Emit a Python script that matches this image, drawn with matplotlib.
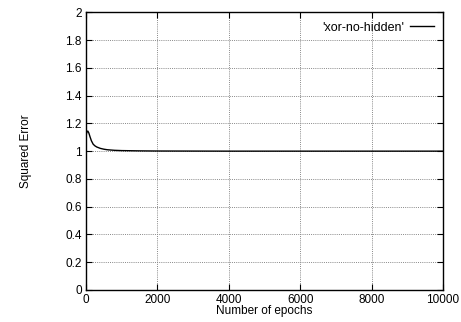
import matplotlib
matplotlib.use("Agg")
import matplotlib.pyplot as plt

plt.rcParams['font.family'] = ['Liberation Sans', 'DejaVu Sans']

epochs = [0, 20, 50, 80, 110, 150, 200, 250, 300, 400, 500, 600, 800, 1000,
          1500, 2000, 3000, 4000, 5000, 6000, 7000, 8000, 9000, 10000]
errors = [1.11, 1.135, 1.145, 1.13, 1.105, 1.075, 1.05, 1.038, 1.03, 1.02,
          1.014, 1.01, 1.006, 1.004, 1.002, 1.001, 1.0005, 1.0, 1.0, 1.0,
          1.0, 1.0, 1.0, 1.0]

xticks = [0, 2000, 4000, 6000, 8000, 10000]
yticks = [0, 0.2, 0.4, 0.6, 0.8, 1, 1.2, 1.4, 1.6, 1.8, 2]
ytick_labels = ['0', '0.2', '0.4', '0.6', '0.8', '1', '1.2', '1.4', '1.6', '1.8', '2']

fig = plt.figure(figsize=(4.61, 3.22), dpi=100)
ax = fig.add_axes([0.1866, 0.0994, 0.7744, 0.8624])

ax.plot(epochs, errors, color='black', linewidth=1.0, label="'xor-no-hidden'")

ax.set_xlim(0, 10000)
ax.set_ylim(0, 2)
ax.set_xticks(xticks)
ax.set_xticklabels([str(t) for t in xticks])
ax.set_yticks(yticks)
ax.set_yticklabels(ytick_labels)
ax.tick_params(direction='in', top=True, right=True, labelsize=8.5, length=4, width=0.8, pad=3)
ax.grid(True, color='#888888', linestyle=(0, (1, 1.2)), linewidth=0.7)

for s in ax.spines.values():
    s.set_linewidth(1.0)

ax.set_xlabel('Number of epochs', fontsize=8.5, labelpad=-1)
ax.set_ylabel('Squared Error', fontsize=8.5, labelpad=24)

ax.legend(loc='center right', bbox_to_anchor=(0.975, 0.944), frameon=False,
          fontsize=9, markerfirst=False, handlelength=1.9,
          borderaxespad=0, borderpad=0, handletextpad=0.5)

fig.savefig('out.png', dpi=100)
